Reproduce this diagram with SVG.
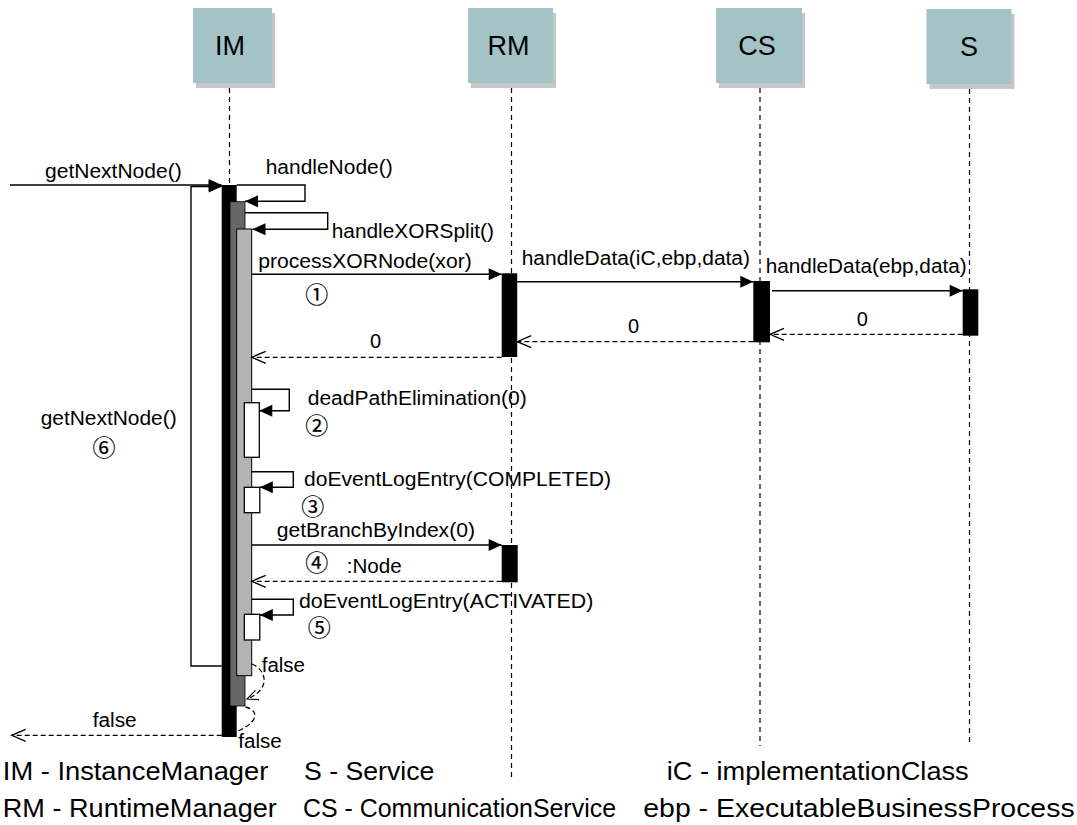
<svg xmlns="http://www.w3.org/2000/svg" width="1077" height="825" viewBox="0 0 1077 825">
<style>
.hdr{fill:#a4c3c7}
.shd{fill:#c6c6c6}
.ht{font-family:"Liberation Sans",Arial,sans-serif;font-size:27px;fill:#000;text-anchor:middle}
.life{stroke:#000;stroke-width:1.2;stroke-dasharray:5,4;fill:none}
.msg{stroke:#000;stroke-width:1.4;fill:none}
.ret{stroke:#000;stroke-width:1.3;stroke-dasharray:5,3;fill:none}
.t{font-family:"Liberation Sans",Arial,sans-serif;font-size:20px;fill:#000}
.lg{font-family:"Liberation Sans",Arial,sans-serif;font-size:26px;fill:#000}
.num{font-family:"Noto Sans CJK JP","DejaVu Sans",sans-serif;font-size:23px;fill:#000;stroke:#000;stroke-width:0.2;text-anchor:middle}
.act{fill:#000}
.act2{fill:#676767;stroke:#000;stroke-width:0.8}
.act3{fill:#b3b3b3;stroke:#000;stroke-width:1}
.act4{fill:#fff;stroke:#000;stroke-width:1.3}
</style>
<defs>
<marker id="fa" markerUnits="userSpaceOnUse" markerWidth="14" markerHeight="12" refX="13" refY="6" orient="auto" overflow="visible">
<path d="M0,0 L13,6 L0,12 z" fill="#000" stroke="none"/>
</marker>
<marker id="oa" markerUnits="userSpaceOnUse" markerWidth="15" markerHeight="13" refX="14" refY="6" orient="auto" overflow="visible">
<path d="M0,0 L14,6 L0,12" fill="none" stroke="#000" stroke-width="1.3"/>
</marker>
<marker id="oas" markerUnits="userSpaceOnUse" markerWidth="12" markerHeight="10" refX="11" refY="5" orient="auto" overflow="visible">
<path d="M0,0 L11,5 L0,10" fill="none" stroke="#000" stroke-width="1.2"/>
</marker>
</defs>
<rect width="1077" height="825" fill="#fff"/>

<g id="IM">
<rect class="shd" x="196" y="13" width="79" height="75"/>
<rect class="hdr" x="193" y="8" width="79" height="75"/>
<text class="ht" x="230" y="55">IM</text>
<line class="life" x1="229.5" y1="88" x2="229.5" y2="737"/>
<rect class="act" x="221.7" y="185" width="15" height="552"/>
<rect class="act2" x="230" y="201.7" width="15" height="504.3"/>
<rect class="act3" x="236.7" y="229" width="15" height="446.7"/>
<rect class="act4" x="244.3" y="402.7" width="15" height="54.6"/>
<rect class="act4" x="244.3" y="487.3" width="15.5" height="25.4"/>
<rect class="act4" x="244.3" y="614.3" width="15.5" height="25.7"/>
</g>

<g id="RM">
<rect class="shd" x="471" y="13" width="85" height="75"/>
<rect class="hdr" x="468" y="8" width="85" height="75"/>
<text class="ht" x="508.5" y="55">RM</text>
<line class="life" x1="511.5" y1="88" x2="511.5" y2="780"/>
<rect class="act" x="501.7" y="273.3" width="15.5" height="83.7"/>
<rect class="act" x="501.7" y="545" width="16" height="37.3"/>
</g>

<g id="CS">
<rect class="shd" x="719" y="13" width="86" height="75"/>
<rect class="hdr" x="716" y="8" width="86" height="75"/>
<text class="ht" x="757" y="55">CS</text>
<line class="life" x1="760" y1="88" x2="760" y2="746"/>
<rect class="act" x="753.3" y="281" width="16.7" height="61.3"/>
</g>

<g id="S">
<rect class="shd" x="929.5" y="14" width="85" height="75"/>
<rect class="hdr" x="926.5" y="9" width="85" height="75"/>
<text class="ht" x="969" y="56">S</text>
<line class="life" x1="969.5" y1="89" x2="969.5" y2="746"/>
<rect class="act" x="962.7" y="289.3" width="15.6" height="46.4"/>
</g>

<g id="connectors">
<path class="msg" d="M10,185 H221.7" marker-end="url(#fa)"/>
<path class="msg" d="M221.7,666 H191 V186.5 H221.7" marker-end="url(#fa)"/>
<path class="msg" d="M236.7,185 H305 V201.3 H245" marker-end="url(#fa)"/>
<path class="msg" d="M245,212.7 H327.7 V229.3 H252.5" marker-end="url(#fa)"/>
<path class="msg" d="M251.7,274.3 H501.7" marker-end="url(#fa)"/>
<path class="msg" d="M517.2,281.7 H753.3" marker-end="url(#fa)"/>
<path class="msg" d="M772,290.7 H962.7" marker-end="url(#fa)"/>
<path class="ret" d="M962.7,334.3 H770" marker-end="url(#oa)"/>
<path class="ret" d="M753.3,341.7 H517.2" marker-end="url(#oa)"/>
<path class="ret" d="M501.7,357.3 H251.7" marker-end="url(#oa)"/>
<path class="msg" d="M251.7,389.3 H289.3 V410.7 H259.3" marker-end="url(#fa)"/>
<path class="msg" d="M251.7,471.7 H293.3 V487.3 H259.8" marker-end="url(#fa)"/>
<path class="msg" d="M251.7,545 H501.7" marker-end="url(#fa)"/>
<path class="ret" d="M501.7,581.3 H251.7" marker-end="url(#oa)"/>
<path class="msg" d="M251.7,599.3 H293.3 V615 H259.8" marker-end="url(#fa)"/>
<path class="ret" d="M252,664 C268,671 270,690 247,699" marker-end="url(#oas)"/>
<path class="ret" d="M245.5,707 C259,710 259,722 238,731"/>
<path class="ret" d="M221.7,735.3 H11.7" marker-end="url(#oa)"/>

<text class="t" x="45" y="178" textLength="136.7" lengthAdjust="spacingAndGlyphs">getNextNode()</text>
<text class="t" x="265.7" y="173.5" textLength="127" lengthAdjust="spacingAndGlyphs">handleNode()</text>
<text class="t" x="331.7" y="237.5" textLength="162.3" lengthAdjust="spacingAndGlyphs">handleXORSplit()</text>
<text class="t" x="258.3" y="268" textLength="213.4" lengthAdjust="spacingAndGlyphs">processXORNode(xor)</text>
<text class="num" x="316.7" y="302.5">①</text>
<text class="t" x="521.7" y="265" textLength="228.3" lengthAdjust="spacingAndGlyphs">handleData(iC,ebp,data)</text>
<text class="t" x="765.7" y="273" textLength="201" lengthAdjust="spacingAndGlyphs">handleData(ebp,data)</text>
<text class="t" x="856.7" y="326">0</text>
<text class="t" x="628" y="333">0</text>
<text class="t" x="370" y="348">0</text>
<text class="t" x="307.7" y="405" textLength="219" lengthAdjust="spacingAndGlyphs">deadPathElimination(0)</text>
<text class="num" x="316.7" y="434">②</text>
<text class="t" x="304" y="486" textLength="307" lengthAdjust="spacingAndGlyphs">doEventLogEntry(COMPLETED)</text>
<text class="num" x="312.7" y="515">③</text>
<text class="t" x="276.7" y="536.7" textLength="198.3" lengthAdjust="spacingAndGlyphs">getBranchByIndex(0)</text>
<text class="num" x="316.7" y="570.5">④</text>
<text class="t" x="346.7" y="573.3" textLength="55" lengthAdjust="spacingAndGlyphs">:Node</text>
<text class="t" x="299" y="607.7" textLength="294.3" lengthAdjust="spacingAndGlyphs">doEventLogEntry(ACTIVATED)</text>
<text class="num" x="319.3" y="636">⑤</text>
<text class="t" x="40.7" y="425" textLength="136" lengthAdjust="spacingAndGlyphs">getNextNode()</text>
<text class="num" x="104" y="455.5">⑥</text>
<text class="t" x="261.7" y="671.7" textLength="43.3" lengthAdjust="spacingAndGlyphs">false</text>
<text class="t" x="92.7" y="726.7" textLength="44" lengthAdjust="spacingAndGlyphs">false</text>
<text class="t" x="238.3" y="748.3" textLength="43.4" lengthAdjust="spacingAndGlyphs">false</text>
</g>

<g id="legend">
<text class="lg" x="2.8" y="780" textLength="265.5" lengthAdjust="spacingAndGlyphs">IM - InstanceManager</text>
<text class="lg" x="304" y="780" textLength="130.4" lengthAdjust="spacingAndGlyphs">S - Service</text>
<text class="lg" x="666.7" y="780" textLength="302" lengthAdjust="spacingAndGlyphs">iC - implementationClass</text>
<text class="lg" x="2.8" y="817" textLength="274" lengthAdjust="spacingAndGlyphs">RM - RuntimeManager</text>
<text class="lg" x="303" y="817" textLength="313" lengthAdjust="spacingAndGlyphs">CS - CommunicationService</text>
<text class="lg" x="643.3" y="817" textLength="431.3" lengthAdjust="spacingAndGlyphs">ebp - ExecutableBusinessProcess</text>
</g>
</svg>
